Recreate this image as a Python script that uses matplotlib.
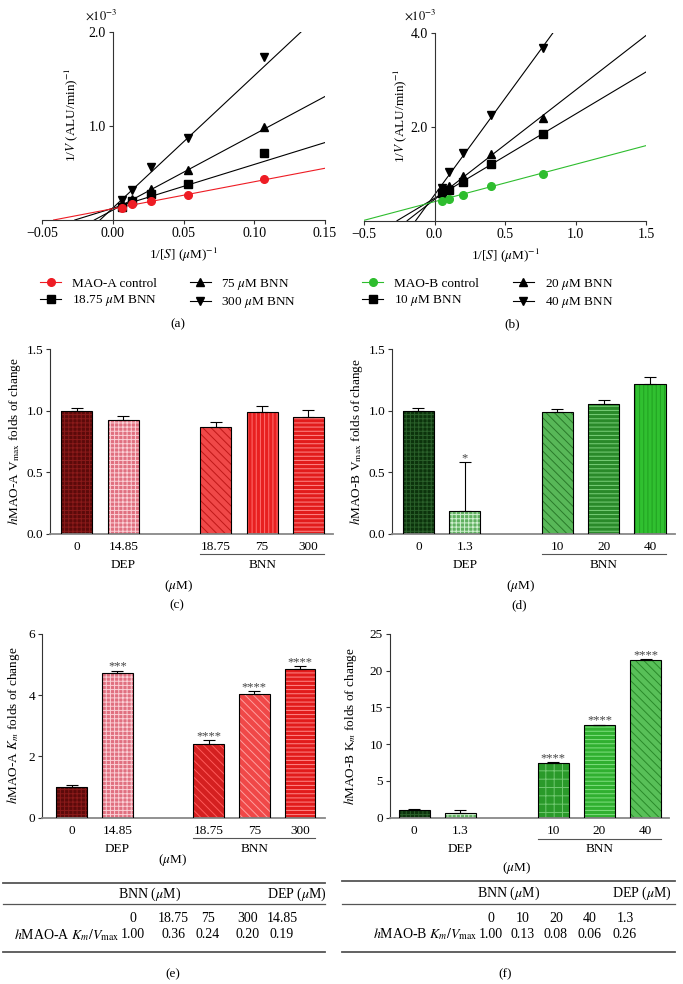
import numpy as np
import matplotlib
matplotlib.use('Agg')
import matplotlib.pyplot as plt
from matplotlib.lines import Line2D
from matplotlib import transforms

plt.rcParams['font.family'] = ['Liberation Serif', 'DejaVu Serif']
plt.rcParams['mathtext.fontset'] = 'stix'
plt.rcParams['font.size'] = 9
plt.rcParams['hatch.linewidth'] = 0.7

W, H = 683, 984

# ---------------- data ----------------
# (a) Lineweaver-Burk, MAO-A (1/V in units of 1e-3)
inv_s_a = [0.0067, 0.0133, 0.0267, 0.0533, 0.1067]
labels_a = ['MAO-A control', r'18.75 $\mu$M BNN', r'75 $\mu$M BNN', r'300 $\mu$M BNN']
inv_v_a_ctrl = [0.13, 0.165, 0.20, 0.27, 0.44]
inv_v_a_1875 = [0.14, 0.20, 0.28, 0.38, 0.71]
inv_v_a_75 = [0.18, 0.22, 0.33, 0.53, 0.99]
inv_v_a_300 = [0.21, 0.32, 0.56, 0.87, 1.73]
fit_slope_a = [2.87, 4.66, 8.06, 14.08]
fit_icpt_a = [0.120, 0.125, 0.105, 0.127]

# (b) Lineweaver-Burk, MAO-B
inv_s_b = [0.05, 0.10, 0.20, 0.40, 0.77]
labels_b = ['MAO-B control', r'10 $\mu$M BNN', r'20 $\mu$M BNN', r'40 $\mu$M BNN']
inv_v_b_ctrl = [0.41, 0.46, 0.54, 0.75, 1.00]
inv_v_b_10 = [0.60, 0.65, 0.83, 1.20, 1.84]
inv_v_b_20 = [0.60, 0.73, 0.95, 1.43, 2.19]
inv_v_b_40 = [0.70, 1.03, 1.45, 2.26, 3.68]
fit_slope_b = [0.796, 1.795, 2.33, 4.11]
fit_icpt_b = [0.406, 0.477, 0.452, 0.55]

xt_a = [-0.05, 0.0, 0.05, 0.10, 0.15]
xtl_a = ['\u22120.05', '0.00', '0.05', '0.10', '0.15']
xt_b = [-0.5, 0.0, 0.5, 1.0, 1.5]
xtl_b = ['\u22120.5', '0.0', '0.5', '1.0', '1.5']

# bar charts
bar_pos = [0, 1, 3, 4, 5]
conc_a = ['0', '14.85', '18.75', '75', '300']
conc_b = ['0', '1.3', '10', '20', '40']

vmax_a = [1.00, 0.92, 0.865, 0.985, 0.945]
vmax_a_err = [0.018, 0.033, 0.045, 0.05, 0.06]
vmax_a_sig = ['', '', '', '', '']

vmax_b = [1.00, 0.19, 0.99, 1.055, 1.22]
vmax_b_err = [0.02, 0.39, 0.02, 0.035, 0.055]
vmax_b_sig = ['', '*', '', '', '']

km_a = [1.01, 4.71, 2.41, 4.03, 4.84]
km_a_err = [0.05, 0.09, 0.11, 0.10, 0.11]
km_a_sig = ['', '***', '****', '****', '****']

km_b = [1.0, 0.70, 7.45, 12.57, 21.5]
km_b_err = [0.12, 0.32, 0.09, 0.09, 0.09]
km_b_sig = ['', '', '****', '****', '****']

# tables
tbl_e_conc = ['0', '18.75', '75', '300', '14.85']
tbl_e_vals = [1.00, 0.36, 0.24, 0.20, 0.19]
tbl_f_conc = ['0', '10', '20', '40', '1.3']
tbl_f_vals = [1.00, 0.13, 0.08, 0.06, 0.26]

# ---------------- styles ----------------
RED = '#ee1c24'
GREEN = '#2ebd2e'
c_faces = ['#5c0a0a', '#e07080', '#f04848', '#e82020', '#e21c1c']
c_hcol = ['#8a1a1a', '#fbd0d6', '#c01818', '#ff7070', '#ff8a8a']
c_hatch = ['++++', '++++', '\\\\\\\\', '||||', '----']
e_faces = ['#5c0a0a', '#e07080', '#d42020', '#f04848', '#e21c1c']
e_hcol = ['#8a1a1a', '#fbd0d6', '#ff5a5a', '#ffa0a0', '#ff8a8a']
e_hatch = ['++++', '++++', '\\\\\\\\', '\\\\\\\\', '----']
d_faces = ['#0c330c', '#60b060', '#58b858', '#2a8a2a', '#30c030']
d_hcol = ['#2a602a', '#d0f0d0', '#2a7a2a', '#7ad07a', '#20a020']
d_hatch = ['++++', '++++', '\\\\\\\\', '----', '||||']
f_faces = ['#0c330c', '#60b060', '#2a9a2a', '#30b030', '#58c058']
f_hcol = ['#2a602a', '#d0f0d0', '#70c870', '#80e080', '#2a8a2a']
f_hatch = ['++++', '++++', '++', '----', '\\\\\\\\']

fig = plt.figure(figsize=(W / 100, H / 100), dpi=100)


def rect(l, t, r, b):
    return [l / W, 1 - b / H, (r - l) / W, (b - t) / H]


def lb_panel(ax, xs, series, slopes, icpts, colors, markers, labels, xlim, ylim,
             xt, xtl, ylabel_x, exp_off):
    ax.set_xlim(*xlim)
    ax.set_ylim(*ylim)
    order = [1, 2, 3, 0]
    for i in order:
        m, b = slopes[i], icpts[i]
        x0 = max(xlim[0], -b / m)
        x1 = min(xlim[1], (ylim[1] - b) / m)
        ax.plot([x0, x1], [m * x0 + b, m * x1 + b], color=colors[i], lw=0.8, zorder=2)
    for i in order:
        ax.plot(xs, series[i], ls='none', marker=markers[i], color=colors[i], ms=5.5,
                zorder=3, clip_on=False)
    ax.spines['left'].set_position(('data', 0))
    ax.spines['top'].set_visible(False)
    ax.spines['right'].set_visible(False)
    for s in ('left', 'bottom'):
        ax.spines[s].set_color('#333333')
        ax.spines[s].set_linewidth(0.8)
    ax.set_xticks(xt, xtl)
    yt = [ylim[1] / 2, ylim[1]]
    ax.set_yticks(yt, ['%.1f' % v for v in yt])
    ax.tick_params(direction='out', length=3, width=0.8, color='#333333', labelsize=10, pad=2)
    ax.set_xlabel(r'1/[$S$] ($\mu$M)$^{-1}$', fontsize=9.5)
    ax.xaxis.set_label_coords(0.5, -0.14)
    ax.set_ylabel(r'1/$V$ (ALU/min)$^{-1}$', fontsize=9.5)
    ax.yaxis.set_label_coords(ylabel_x, 0.56)
    ax.annotate(r'$\times10^{-3}$', xy=(0, ylim[1]), xycoords='data', xytext=exp_off,
                textcoords='offset pixels', ha='center', va='center', fontsize=9)
    handles = [Line2D([], [], color=colors[i], marker=markers[i], ms=5.5, lw=0.8)
               for i in range(4)]
    return handles


# ---- (a) ----
axa = fig.add_axes(rect(42, 32, 325, 220))
ha = lb_panel(axa, inv_s_a, [inv_v_a_ctrl, inv_v_a_1875, inv_v_a_75, inv_v_a_300],
              fit_slope_a, fit_icpt_a, [RED, 'k', 'k', 'k'], ['o', 's', '^', 'v'],
              labels_a, (-0.05, 0.15), (0, 2.0), xt_a, xtl_a, 0.135, (-12, 17))
fig.legend(ha, labels_a, loc='upper left', bbox_to_anchor=(40 / W, 1 - 277 / H), ncol=2,
           frameon=False, handlelength=1.6, handletextpad=0.8, columnspacing=2.5,
           labelspacing=0.25, borderaxespad=0, borderpad=0, fontsize=9.5)

# ---- (b) ----
axb = fig.add_axes(rect(364, 33, 646, 220.7))
hb = lb_panel(axb, inv_s_b, [inv_v_b_ctrl, inv_v_b_10, inv_v_b_20, inv_v_b_40],
              fit_slope_b, fit_icpt_b, [GREEN, 'k', 'k', 'k'], ['o', 's', '^', 'v'],
              labels_b, (-0.5, 1.5), (0, 4.0), xt_b, xtl_b, 0.16, (-14, 18))
fig.legend(hb, labels_b, loc='upper left', bbox_to_anchor=(362 / W, 1 - 277 / H), ncol=2,
           frameon=False, handlelength=1.6, handletextpad=0.8, columnspacing=2.6,
           labelspacing=0.25, borderaxespad=0, borderpad=0, fontsize=9.5)


def bar_panel(ax, vals, errs, sig, faces, hcols, hatches, ticklabels, ylim, yt, ytl,
              ylabel, ylabel_x, xlim, off):
    w = 0.67
    bars = ax.bar(bar_pos, vals, width=w, color=faces, linewidth=0, zorder=2)
    for p, hc, hh in zip(bars.patches, hcols, hatches):
        p.set_edgecolor(hc)
        p.set_hatch(hh)
        p.set_linewidth(0)
    ax.bar(bar_pos, vals, width=w, fill=False, edgecolor='black', linewidth=0.8, zorder=3)
    ax.errorbar(bar_pos, vals, yerr=[np.zeros(len(vals)), errs], fmt='none', ecolor='black',
                elinewidth=0.8, capsize=4, capthick=0.8, zorder=4)
    for x, v, e, s in zip(bar_pos, vals, errs, sig):
        if s:
            ax.annotate(s, xy=(x, v + e), xytext=(0, 1), textcoords='offset pixels',
                        ha='center', va='baseline', fontsize=9, color='#444444')
    ax.set_xlim(*xlim)
    ax.set_ylim(*ylim)
    ax.set_yticks(yt, ytl)
    ax.set_xticks(bar_pos, ticklabels)
    ax.tick_params(axis='y', direction='out', length=3, width=0.8, color='#333333', labelsize=9.5, pad=2)
    ax.tick_params(axis='x', length=0, labelsize=9.5, pad=5)
    ax.spines['top'].set_visible(False)
    ax.spines['right'].set_visible(False)
    ax.spines['left'].set_color('#333333')
    ax.spines['left'].set_linewidth(0.8)
    ax.spines['bottom'].set_color('#888888')
    ax.spines['bottom'].set_linewidth(1.3)
    ax.set_ylabel(ylabel, fontsize=9.5)
    ax.yaxis.set_label_coords(ylabel_x, 0.5)
    tr = transforms.offset_copy(ax.get_xaxis_transform(), fig=fig, x=0, y=-off[0], units='dots')
    ax.plot([bar_pos[2] - w / 2, bar_pos[4] + w / 2], [0, 0], transform=tr, clip_on=False,
            color='#555555', lw=0.8)
    ax.annotate('DEP', xy=(bar_pos[1], 0), xycoords=('data', 'axes fraction'),
                xytext=(0, -off[1]), textcoords='offset pixels', ha='center', va='center', fontsize=9.5)
    ax.annotate('BNN', xy=(bar_pos[3], 0), xycoords=('data', 'axes fraction'),
                xytext=(0, -off[1]), textcoords='offset pixels', ha='center', va='center', fontsize=9.5)
    ax.annotate(r'($\mu$M)', xy=(2.2, 0), xycoords=('data', 'axes fraction'),
                xytext=(0, -off[2]), textcoords='offset pixels', ha='center', va='center', fontsize=9.5)


axc = fig.add_axes(rect(50, 349, 333, 533.7))
bar_panel(axc, vmax_a, vmax_a_err, vmax_a_sig, c_faces, c_hcol, c_hatch, conc_a, (0, 1.5),
          [0, 0.5, 1.0, 1.5], ['0.0', '0.5', '1.0', '1.5'],
          r'$h$MAO-A V$_{\rm max}$ folds of change', -0.094, (-0.583, 5.53), (20, 31, 52))

axd = fig.add_axes(rect(392, 349, 675, 534))
bar_panel(axd, vmax_b, vmax_b_err, vmax_b_sig, d_faces, d_hcol, d_hatch, conc_b, (0, 1.5),
          [0, 0.5, 1.0, 1.5], ['0.0', '0.5', '1.0', '1.5'],
          r'$h$MAO-B V$_{\rm max}$ folds of change', -0.094, (-0.57, 5.54), (20, 31, 52))

axe = fig.add_axes(rect(42, 633.7, 325, 817.7))
bar_panel(axe, km_a, km_a_err, km_a_sig, e_faces, e_hcol, e_hatch, conc_a, (0, 6),
          [0, 2, 4, 6], ['0', '2', '4', '6'],
          r'$h$MAO-A $K_m$ folds of change', -0.071, (-0.65, 5.55), (20, 31, 42))

axf = fig.add_axes(rect(390, 634, 669, 817.7))
bar_panel(axf, km_b, km_b_err, km_b_sig, f_faces, f_hcol, f_hatch, conc_b, (0, 25),
          [0, 5, 10, 15, 20, 25], ['0', '5', '10', '15', '20', '25'],
          r'$h$MAO-B K$_m$ folds of change', -0.111, (-0.52, 5.5), (21, 31, 50))

# panel letters
fig.text(178 / W, 1 - 324 / H, '(a)', ha='center', va='center', fontsize=9.5)
fig.text(512 / W, 1 - 324 / H, '(b)', ha='center', va='center', fontsize=9.5)
fig.text(177 / W, 1 - 605 / H, '(c)', ha='center', va='center', fontsize=9.5)
fig.text(519 / W, 1 - 605 / H, '(d)', ha='center', va='center', fontsize=9.5)

# ---- tables (overlay in pixel coordinates) ----
ov = fig.add_axes([0, 0, 1, 1])
ov.set_xlim(0, W)
ov.set_ylim(H, 0)
ov.axis('off')
ov.patch.set_alpha(0)


def table(x0, x1, ytop, yh, ymid, yr1, yr2, ybot, bnn_x, dep_x, col_x, lab_x, conc, vals,
          rowlabel, letter_xy, letter):
    fs = 10
    ov.plot([x0, x1], [ytop, ytop], color='#555555', lw=1.3)
    ov.plot([x0, x1], [ymid, ymid], color='#555555', lw=0.9)
    ov.plot([x0, x1], [ybot, ybot], color='#555555', lw=1.3)
    ov.text(bnn_x, yh, r'BNN ($\mu$M)', ha='center', va='center', fontsize=fs)
    ov.text(dep_x, yh, r'DEP ($\mu$M)', ha='center', va='center', fontsize=fs)
    for cx, c, v in zip(col_x, conc, vals):
        ov.text(cx, yr1, c, ha='center', va='center', fontsize=fs)
        ov.text(cx, yr2, '%.2f' % v, ha='center', va='center', fontsize=fs)
    ov.text(lab_x, yr2, rowlabel, ha='right', va='center', fontsize=fs)
    ov.text(letter_xy[0], letter_xy[1], letter, ha='center', va='center', fontsize=9.5)


table(3, 325, 883, 894, 904, 918, 935, 952, 150, 297, [133, 173, 208, 248, 282], 119,
      tbl_e_conc, tbl_e_vals, r'$h$MAO-A $K_m/V_{\rm max}$', (173, 974), '(e)')
table(342, 675, 881, 893, 904, 918, 934, 952, 509, 642, [491, 523, 556, 590, 625], 477,
      tbl_f_conc, tbl_f_vals, r'$h$MAO-B $K_m/V_{\rm max}$', (505, 974), '(f)')

fig.savefig('out.png', dpi=100)
